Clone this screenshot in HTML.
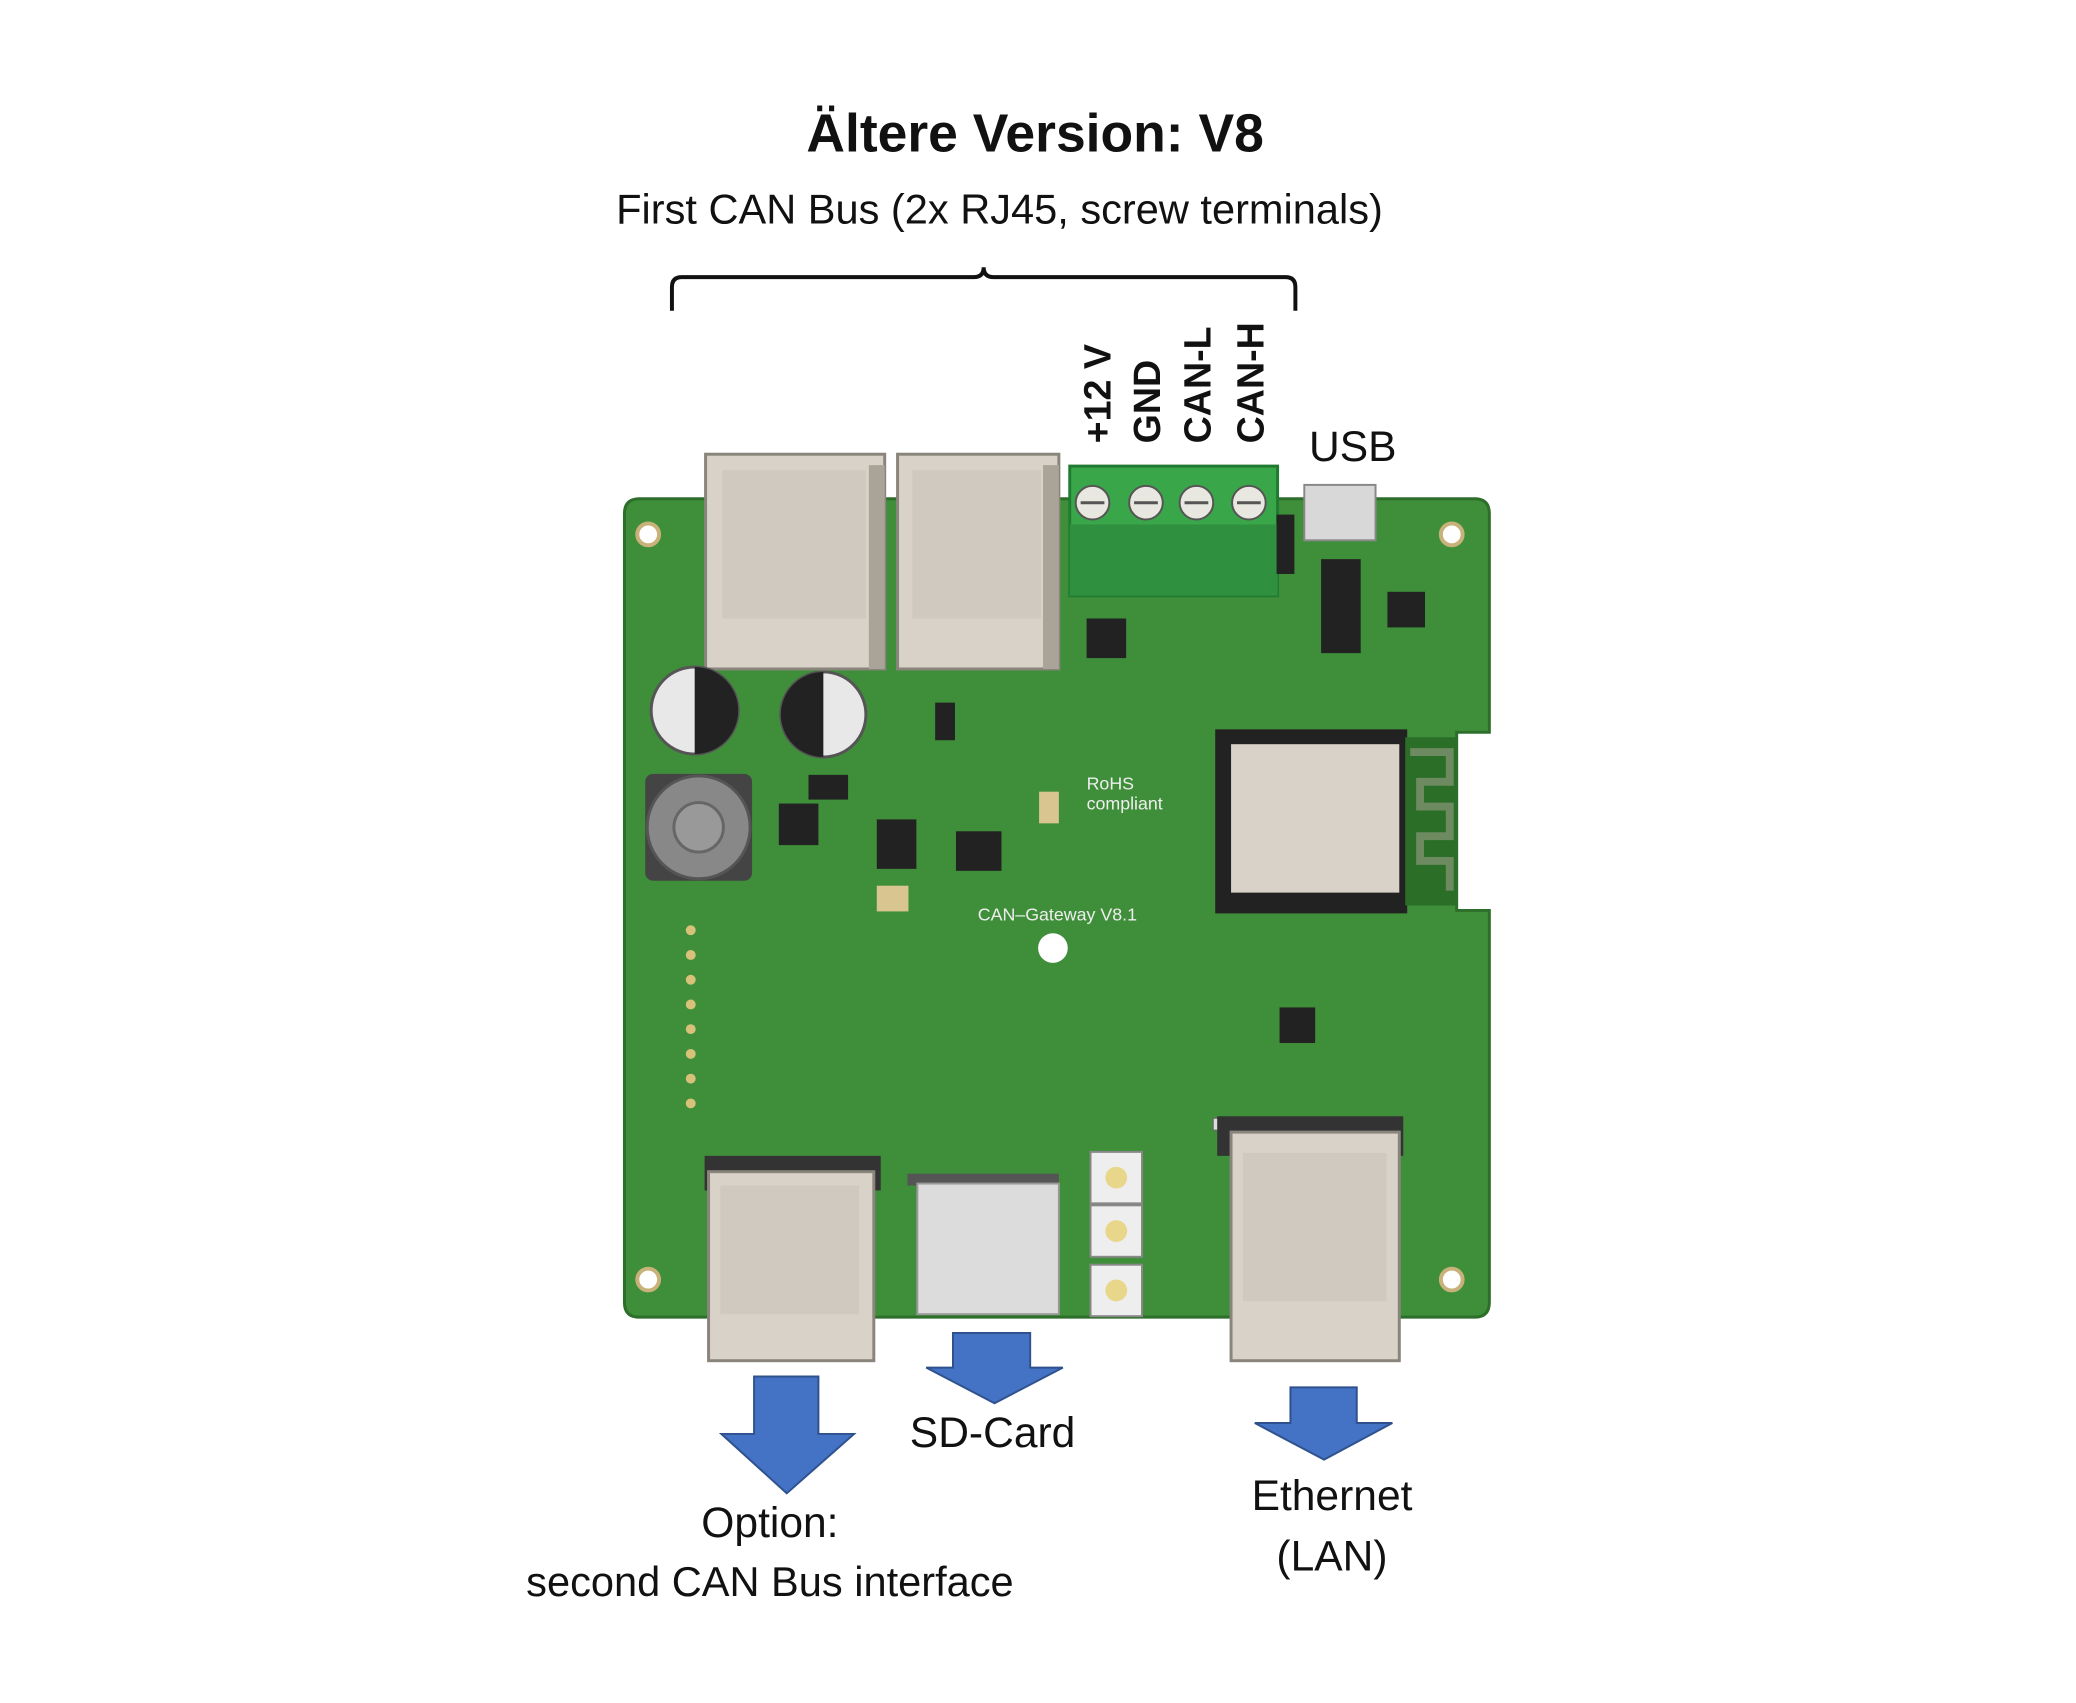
<!DOCTYPE html>
<html><head><meta charset="utf-8">
<style>
html,body{margin:0;padding:0;background:#fff;}
body{width:2076px;height:1703px;position:relative;overflow:hidden;font-family:"Liberation Sans",sans-serif;}
#w{position:absolute;left:0;top:0;width:2076px;height:1703px;transform:scale(0.9896);transform-origin:0 0;}
.t{position:absolute;white-space:nowrap;color:#111;transform:translateX(-50%);}
</style></head><body><div id="w">
<div class="t" style="left:1046px;top:104px;font-size:54px;font-weight:bold;">Ältere Version: V8</div>
<div class="t" style="left:1010px;top:188px;font-size:42px;">First CAN Bus (2x RJ45, screw terminals)</div>
<div class="t" style="left:1003px;top:1424px;font-size:43px;">SD-Card</div>
<div class="t" style="left:778px;top:1515px;font-size:43px;">Option:</div>
<div class="t" style="left:778px;top:1575px;font-size:42px;">second CAN Bus interface</div>
<div class="t" style="left:1346px;top:1488px;font-size:43px;">Ethernet</div>
<div class="t" style="left:1346px;top:1549px;font-size:43px;">(LAN)</div>
<div class="t" style="left:1367px;top:428px;font-size:43px;">USB</div>

<svg width="2076" height="1703" style="position:absolute;left:0;top:0" xmlns="http://www.w3.org/2000/svg">
<path d="M679 314 V290 Q679 280 689 280 H984 Q994 280 994 270 Q994 280 1004 280 H1299 Q1309 280 1309 290 V314" fill="none" stroke="#111" stroke-width="4"/>
<g font-family="Liberation Sans" font-weight="bold" font-size="38" fill="#111">
<text transform="translate(1122,448) rotate(-90)">+12 V</text>
<text transform="translate(1172,448) rotate(-90)">GND</text>
<text transform="translate(1223,448) rotate(-90)">CAN-L</text>
<text transform="translate(1277,448) rotate(-90)">CAN-H</text>
</g>
<path d="M646 504 H1490 Q1505 504 1505 519 V740 H1472 V920 H1505 V1316 Q1505 1331 1490 1331 H646 Q631 1331 631 1316 V519 Q631 504 646 504 Z" fill="#3f8f3a" stroke="#2d6e2a" stroke-width="3"/>
<g fill="#fff" stroke="#c9b27a" stroke-width="4">
<circle cx="655" cy="540" r="11"/><circle cx="1467" cy="540" r="11"/><circle cx="655" cy="1293" r="11"/><circle cx="1467" cy="1293" r="11"/><circle cx="1064" cy="958" r="15" stroke="none"/>
</g>
<g>
<rect x="713" y="459" width="181" height="217" fill="#d8d2c8" stroke="#8a857c" stroke-width="3"/>
<rect x="730" y="475" width="145" height="150" fill="#cfc9bf"/>
<rect x="878" y="470" width="16" height="206" fill="#a9a398"/>
<rect x="907" y="459" width="163" height="217" fill="#d8d2c8" stroke="#8a857c" stroke-width="3"/>
<rect x="922" y="475" width="130" height="150" fill="#cfc9bf"/>
<rect x="1054" y="470" width="16" height="206" fill="#a9a398"/>
</g>
<rect x="1081" y="471" width="210" height="131" fill="#3aa64a" stroke="#207a30" stroke-width="3"/>
<rect x="1081" y="530" width="210" height="72" fill="#2f9140"/>
<g fill="#e8e8e0" stroke="#555" stroke-width="2">
<circle cx="1104" cy="508" r="17"/><circle cx="1158" cy="508" r="17"/><circle cx="1209" cy="508" r="17"/><circle cx="1262" cy="508" r="17"/>
</g>
<g stroke="#555" stroke-width="3"><line x1="1092" y1="508" x2="1116" y2="508"/><line x1="1146" y1="508" x2="1170" y2="508"/><line x1="1197" y1="508" x2="1221" y2="508"/><line x1="1250" y1="508" x2="1274" y2="508"/></g>
<rect x="1318" y="490" width="72" height="56" fill="#d8d8d8" stroke="#888" stroke-width="2"/>
<rect x="1290" y="520" width="18" height="60" fill="#222"/>
<g fill="#222">
<rect x="1335" y="565" width="40" height="95"/>
<rect x="1402" y="598" width="38" height="36"/>
<rect x="1098" y="625" width="40" height="40"/>
<rect x="787" y="812" width="40" height="42"/>
<rect x="886" y="828" width="40" height="50"/>
<rect x="966" y="840" width="46" height="40"/>
<rect x="1293" y="1018" width="36" height="36"/>
<rect x="945" y="710" width="20" height="38"/>
<rect x="817" y="783" width="40" height="25"/>
</g>
<circle cx="702" cy="718" r="44" fill="#e8e8e8" stroke="#555" stroke-width="3"/>
<path d="M702 674 A44 44 0 0 1 702 762 Z" fill="#222"/>
<circle cx="832" cy="722" r="43" fill="#e8e8e8" stroke="#555" stroke-width="3"/>
<path d="M832 679 A43 43 0 0 0 832 765 Z" fill="#222"/>
<rect x="652" y="782" width="108" height="108" rx="8" fill="#444"/>
<circle cx="706" cy="836" r="52" fill="#888" stroke="#555" stroke-width="3"/>
<circle cx="706" cy="836" r="25" fill="#999" stroke="#666" stroke-width="3"/>
<rect x="1228" y="737" width="194" height="186" fill="#222"/>
<rect x="1244" y="752" width="170" height="150" fill="#d8d2c8"/>
<rect x="1420" y="745" width="52" height="170" fill="#2a6e28"/>
<path d="M1425 760 H1465 V790 H1435 V815 H1465 V845 H1435 V870 H1465 V900" fill="none" stroke="#6d8a60" stroke-width="8"/>
<g fill="#d9c590">
<rect x="1050" y="800" width="20" height="32"/><rect x="886" y="895" width="32" height="26"/>
</g>
<rect x="1226" y="1130" width="160" height="12" fill="#ddd" stroke="#666"/>
<rect x="712" y="1168" width="178" height="35" fill="#333"/>
<rect x="716" y="1184" width="167" height="191" fill="#d8d2c8" stroke="#8a857c" stroke-width="3"/>
<rect x="728" y="1198" width="140" height="130" fill="#cfc9bf"/>
<rect x="917" y="1186" width="153" height="12" fill="#555"/>
<rect x="927" y="1196" width="143" height="132" fill="#dcdcdc" stroke="#999" stroke-width="2"/>
<rect x="1230" y="1128" width="188" height="40" fill="#333"/>
<rect x="1244" y="1144" width="170" height="231" fill="#d8d2c8" stroke="#8a857c" stroke-width="3"/>
<rect x="1256" y="1165" width="145" height="150" fill="#cfc9bf"/>
<g fill="#eee" stroke="#888" stroke-width="2">
<rect x="1102" y="1164" width="52" height="52"/><rect x="1102" y="1218" width="52" height="52"/><rect x="1102" y="1278" width="52" height="52"/>
</g>
<g fill="#e8d68a"><circle cx="1128" cy="1190" r="11"/><circle cx="1128" cy="1244" r="11"/><circle cx="1128" cy="1304" r="11"/></g>
<g fill="#d8c27a">
<circle cx="698" cy="940" r="5"/><circle cx="698" cy="965" r="5"/><circle cx="698" cy="990" r="5"/><circle cx="698" cy="1015" r="5"/><circle cx="698" cy="1040" r="5"/><circle cx="698" cy="1065" r="5"/><circle cx="698" cy="1090" r="5"/><circle cx="698" cy="1115" r="5"/>
</g>
<g font-family="Liberation Sans" font-size="18" fill="#eee">
<text x="988" y="930">CAN–Gateway V8.1</text>
<text x="1098" y="798">RoHS</text><text x="1098" y="818">compliant</text>
</g>
<g fill="#4472c4" stroke="#2f528f" stroke-width="2">
<path d="M762 1391 H827 V1449 H863 L795 1509 L729 1449 H762 Z"/>
<path d="M963 1347 H1041 V1382 H1074 L1005 1418 L936 1382 H963 Z"/>
<path d="M1304 1402 H1371 V1438 H1407 L1338 1475 L1268 1438 H1304 Z"/>
</g>
</svg>
</div></body></html>
